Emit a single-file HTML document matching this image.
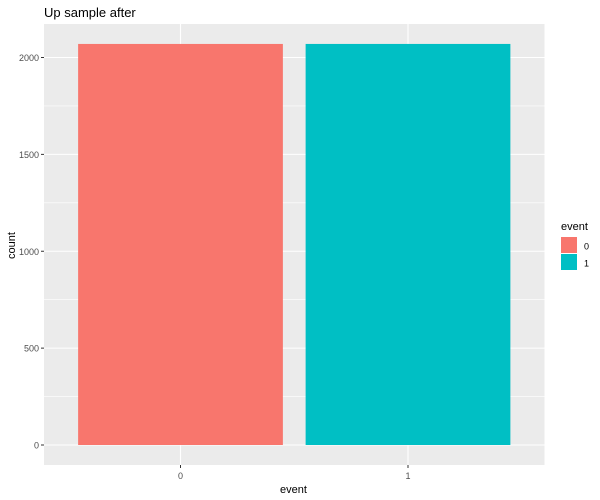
<!DOCTYPE html>
<html>
<head>
<meta charset="utf-8">
<style>
html,body{margin:0;padding:0;background:#fff;}
svg{display:block;font-family:"Liberation Sans",Arial,sans-serif;}
</style>
</head>
<body>
<svg id="chart" width="600" height="500" viewBox="0 0 600 500" xmlns="http://www.w3.org/2000/svg"></svg>
<script>
const categories = ['0', '1'];
const counts = [2070, 2070];
const barColors = ['#F8766D', '#00BFC4'];
const yTicks = [0, 500, 1000, 1500, 2000];
const yMinorTicks = [250, 750, 1250, 1750];
const legendTitle = 'event';
const chartTitle = 'Up sample after';
const xTitle = 'event';
const yTitle = 'count';

const svg = document.getElementById('chart');
const NS = 'http://www.w3.org/2000/svg';
const panel = {left: 44, right: 544.5, top: 24, bottom: 465};
const yZero = 445;
const pxPerCount = 387.5 / 2000;
const x0 = 180.5;
const xStep = 227.5;
const barWidth = 0.9;

function yScale(v) { return yZero - v * pxPerCount; }
function xScale(i) { return x0 + i * xStep; }

function make(tag, attrs, parent) {
  const el = document.createElementNS(NS, tag);
  for (const k in attrs) el.setAttribute(k, attrs[k]);
  (parent || svg).appendChild(el);
  return el;
}
function label(x, y, str, size, fill, anchor, name, rotate) {
  const t = make('text', {x: x, y: y, 'font-size': size, fill: fill, 'text-anchor': anchor});
  if (rotate) t.setAttribute('transform', 'rotate(-90 ' + x + ' ' + y + ')');
  
  
  t.textContent = str;
  return t;
}

const panelRect = make('rect', {x: panel.left, y: panel.top, width: panel.right - panel.left, height: panel.bottom - panel.top, fill: '#EBEBEB'});



yMinorTicks.forEach(function (v) {
  const l = make('line', {x1: panel.left, x2: panel.right, y1: yScale(v), y2: yScale(v), stroke: '#fff', 'stroke-width': 0.55});
  
  
});
yTicks.forEach(function (v) {
  const l = make('line', {x1: panel.left, x2: panel.right, y1: yScale(v), y2: yScale(v), stroke: '#fff', 'stroke-width': 1.07});
  
  
});
categories.forEach(function (c, i) {
  const l = make('line', {x1: xScale(i), x2: xScale(i), y1: panel.top, y2: panel.bottom, stroke: '#fff', 'stroke-width': 1.07});
  
  
});

categories.forEach(function (c, i) {
  const w = barWidth * xStep;
  const b = make('rect', {x: xScale(i) - w / 2, y: yScale(counts[i]), width: w, height: yScale(0) - yScale(counts[i]), fill: barColors[i]});
  
  
});

yTicks.forEach(function (v) {
  const t = make('line', {x1: panel.left - 3, x2: panel.left, y1: yScale(v), y2: yScale(v), stroke: '#333', 'stroke-width': 1});
  
  
  label(panel.left - 5, yScale(v) + 3.5, String(v), 9, '#4D4D4D', 'end', 'y-tick-label');
});
categories.forEach(function (c, i) {
  const t = make('line', {x1: xScale(i), x2: xScale(i), y1: panel.bottom, y2: panel.bottom + 3, stroke: '#333', 'stroke-width': 1});
  
  
  label(xScale(i), panel.bottom + 14, c, 9, '#4D4D4D', 'middle', 'x-tick-label');
});

label(44, 17, chartTitle, 13, '#000', 'start', 'chart-title');
label(293.5, 493, xTitle, 11, '#000', 'middle', 'x-axis-title');
label(15, 245.5, yTitle, 11, '#000', 'middle', 'y-axis-title', true);

label(561, 230, legendTitle, 11, '#000', 'start', 'legend-title');
categories.forEach(function (c, i) {
  const top = 236.5 + i * 17;
  const k = make('rect', {x: 561, y: top + 0.5, width: 16, height: 16, fill: barColors[i]});
  
  
  label(584, top + 13, c, 9, '#000', 'start', 'legend-label-' + c);
});
</script>
</body>
</html>
